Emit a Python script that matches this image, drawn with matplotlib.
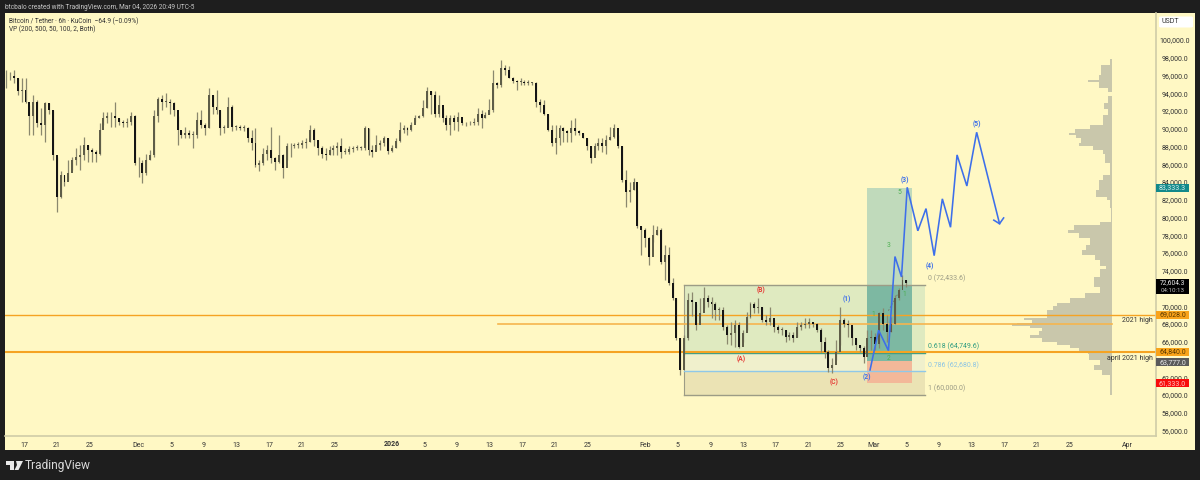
import numpy as np
import matplotlib
matplotlib.use("Agg")
import matplotlib.pyplot as plt
from matplotlib.patches import Rectangle, Polygon, FancyBboxPatch

plt.rcParams['font.family'] = ['Roboto', 'DejaVu Sans']

# ---- candles (12h sampling), thousands of USDT
highs = [96.6,96.4,96.6,95.7,95.7,95.7,92.7,93.8,93.2,92.3,93.05,92.9,92.1,86.85,85.2,84.8,86.5,86.85,87.8,88.2,89.1,88.2,87.8,87.6,90.6,91.9,91.9,91.9,93.05,91.2,91.0,91.2,91.9,91.55,86.85,86.5,87.2,87.6,92.1,93.6,93.8,94.0,93.4,93.05,91.4,89.7,90.2,89.85,89.7,91.9,92.1,90.6,94.55,93.8,94.4,92.1,90.4,93.6,92.7,90.4,90.4,90.4,90.2,89.85,90.05,86.5,87.8,88.2,90.2,86.85,89.3,87.2,88.35,88.35,88.35,88.55,88.7,88.9,90.4,90.05,88.7,88.0,87.8,88.0,88.2,88.55,
 89.0,87.8,88.0,88.0,88.15,88.05,90.3,90.05,88.15,89.3,88.7,89.2,89.0,88.15,88.9,90.8,90.4,90.15,90.8,91.55,91.55,93.25,94.7,94.2,94.2,93.8,92.3,91.55,91.55,91.55,91.9,90.8,90.8,90.9,91.2,92.3,92.1,91.9,93.4,96.6,95.3,97.8,97.2,97.05,95.85,95.5,95.7,95.5,95.5,95.3,95.3,93.3,93.25,91.7,90.4,90.4,90.4,90.2,89.85,91.0,91.2,89.85,89.5,89.0,88.0,88.35,88.9,88.9,89.3,90.2,90.5,89.3,88.0,85.35,84.05,84.4,
 83.1,79.0,78.8,77.85,79.15,79.0,78.8,76.9,76.7,73.15,70.9,66.4,66.75,71.45,71.65,70.3,70.9,72.2,71.25,71.05,70.5,69.95,69.95,67.9,68.25,68.45,68.25,
 67.3,69.4,70.5,70.5,70.9,69.95,69.0,69.95,68.45,67.9,67.7,67.3,67.15,67.15,68.25,68.25,68.65,68.65,68.25,68.15,67.5,66.55,65.05,64.15,66.25,69.95,68.65,68.45,67.7,66.4,65.6,65.5,67.3,67.3,66.95,69.4,69.75,69.0,68.8,71.25,72.0,73.5,72.95]
lows = [94.6,95.5,95.1,93.8,93.05,92.9,89.3,89.3,90.2,89.3,88.55,91.7,86.5,80.65,82.2,83.5,84.2,85.35,85.9,85.35,86.5,86.3,86.3,86.3,87.05,90.4,90.6,90.2,90.2,90.4,90.2,90.2,90.4,85.9,84.6,83.85,84.8,86.5,86.85,90.8,92.1,92.5,91.7,91.4,88.2,88.9,88.9,88.9,87.8,88.9,90.05,89.3,90.05,91.7,91.7,89.3,89.5,90.2,89.7,89.85,89.85,89.7,88.55,87.6,85.7,85.2,85.9,86.5,86.1,85.35,86.1,84.4,86.5,86.85,87.8,87.8,87.8,87.8,88.55,88.0,87.05,86.7,86.5,87.05,87.05,87.05,
 86.65,87.15,87.2,87.4,87.55,87.6,87.6,87.05,86.85,87.6,87.6,88.0,87.2,87.4,87.8,88.55,89.5,89.3,89.7,90.8,91.2,91.35,92.3,91.7,91.35,91.35,90.8,89.85,89.3,89.85,89.7,90.4,90.3,90.4,90.4,90.4,90.05,91.2,91.7,91.9,94.55,94.7,96.05,95.7,95.1,94.4,94.9,94.9,94.9,94.9,92.5,91.9,91.55,89.7,88.0,87.2,88.15,88.55,88.55,88.55,89.3,89.3,88.9,87.6,86.1,87.2,87.6,87.4,87.2,88.7,88.9,87.8,84.05,81.2,81.8,83.1,
 78.8,75.8,76.7,74.65,77.25,78.0,74.8,72.95,72.4,70.7,66.2,62.25,64.5,66.2,68.85,67.3,68.85,69.75,69.95,68.65,68.45,68.45,67.3,65.8,65.6,65.45,65.25,
 66.0,67.3,68.65,69.2,69.2,68.25,67.9,67.9,67.15,66.95,66.75,66.0,66.2,66.0,66.55,67.3,67.5,67.5,67.7,67.15,64.9,64.15,62.6,62.5,63.95,65.6,67.7,66.55,65.6,65.05,64.9,63.65,65.25,65.05,65.05,65.25,67.3,66.0,67.15,68.05,70.7,72.4,72.2]
closes = [95.9,95.9,95.7,94.2,94.4,93.05,91.4,93.05,90.6,90.4,92.9,92.1,87.05,82.35,84.8,84.05,85.0,86.5,86.85,87.05,88.2,87.6,87.4,87.2,89.85,91.2,91.4,91.4,91.2,90.8,90.6,90.8,91.4,86.1,86.1,85.0,86.5,87.05,91.4,93.4,93.05,93.05,92.9,92.1,89.85,89.3,89.5,89.3,89.3,91.0,90.4,90.05,93.8,92.5,92.1,90.05,90.05,92.5,90.2,90.2,90.05,90.05,88.9,88.35,85.9,86.1,87.2,87.6,86.7,86.3,87.05,85.55,88.0,88.05,88.2,88.2,88.35,88.55,89.85,88.7,87.8,87.2,87.05,87.6,87.8,88.0,
 87.4,87.4,87.7,87.8,87.85,87.85,90.05,87.6,87.4,88.15,88.35,88.9,87.5,87.8,88.65,89.85,90.05,89.85,90.4,91.2,91.4,92.3,94.2,93.8,91.7,92.7,91.2,90.4,91.2,90.8,91.35,90.6,90.6,90.7,90.8,91.7,91.2,91.55,92.1,95.1,94.9,96.8,96.6,95.7,95.4,95.3,95.3,95.2,95.2,95.2,93.05,92.7,91.7,89.85,88.35,88.9,90.05,89.7,89.5,90.05,89.7,89.5,89.0,88.0,86.65,88.0,88.35,88.0,88.7,89.1,90.05,88.0,84.2,82.9,83.1,84.05,
 79.0,78.6,77.65,75.5,78.0,78.6,75.0,75.75,72.6,70.9,66.4,62.8,66.4,70.7,70.5,67.9,69.2,70.9,70.5,70.3,69.6,69.6,67.7,66.75,66.95,67.9,65.45,
 66.95,68.8,70.3,69.75,69.95,68.45,68.25,68.65,67.7,67.3,67.3,66.55,66.75,66.4,67.7,67.9,68.05,68.25,68.05,67.3,66.0,64.9,63.0,63.4,64.9,68.5,68.05,67.9,66.4,65.6,65.25,64.3,66.4,66.55,65.8,69.2,68.05,67.15,68.05,70.9,71.85,72.95,72.6]

# ---- forecast wave (days after Nov 17, thousands of USDT)
wave_days = [103.55,104.6,105.8,106.6,107.4,108.1,109.4,110.4,111.4,112.4,113.4,114.2,115.4,116.6,119.4]
wave_vals = [62.82,67.3,65.0,75.6,73.3,83.4,78.5,81.0,75.7,82.1,78.9,87.05,83.55,89.6,79.3]

# ---- fib / position levels
fib_levels = [72.4336, 64.7496, 62.6808, 60.0]
fib_labels = ['0 (72,433.6)', '0.618 (64,749.6)', '0.786 (62,680.8)', '1 (60,000.0)']
target, entry, stop = 83.3333, 63.777, 61.333
level_2021, level_apr = 69.028, 64.84
level_mid = 68.0

# ---- volume profile
vp_edges = [97.9,97.2,96.05,95.5,95.25,94.55,94.1,93.7,92.9,92.2,91.6,90.4,90.0,89.55,89.35,88.95,88.4,88.05,87.6,87.2,86.1,84.8,84.2,83.1,82.3,82.0,81.1,79.5,79.1,78.55,78.3,77.7,76.9,76.3,75.8,75.2,74.5,74.25,73.3,72.2,71.5,70.9,70.4,70.0,69.6,68.7,68.45,68.15,67.95,67.8,67.5,67.2,66.8,66.4,66.0,65.6,65.25,64.9,64.6,63.95,63.35,62.85,62.3,60.0]
vp_vol = [2.3,11,13,24,13,4,0,4,8,4,9,22,37,43,36,31,33,19,9,7,2.3,9,13,16,5,2.3,1,12,38,44,33,22,26,30,17,12,6,12,18,12,27,42,55,59,65,88,80,95,100,82,70,73,82,70,55,42,33,24,23,12,18,10,2]

# ---- axis ticks (72,000 and 64,000 sit behind price tags in the reference)
price_ticks = [p for p in range(56, 102, 2) if p not in (72, 64)]
date_days = [0,4,8,14,18,22,26,30,34,38,49,53,57,61,65,69,76,80,84,88,92,96,100,104,108,112,116,120,124,128,135]
date_labels = ['17','21','25','Dec','5','9','13','17','21','25','5','9','13','17','21','25','Feb','5','9','13','17','21','25','Mar','5','9','13','17','21','25','Apr']

BG = '#FFF8C4'
DARK = '#1E1E1E'
GRID = '#CFCCA8'
W, H = 1200, 480

fig = plt.figure(figsize=(12, 4.8), dpi=100, facecolor=DARK)
def T(x, y, s, **kw):
    kw.setdefault('ha', 'left'); kw.setdefault('va', 'center')
    return fig.text(x / W, 1 - y / H, s, **kw)

# full panel
fig.add_artist(Rectangle((5 / W, 1 - 450 / H), 1190 / W, 437 / H, transform=fig.transFigure, fc=BG, ec='none', zorder=-5))
ax = fig.add_axes([5 / W, 1 - 436 / H, 1151 / W, 423 / H])
ax.set_facecolor(BG)
ax.set_xlim(-2.326, 138.55)
ax.set_ylim(55380, 103040)
for s in ['top', 'left']:
    ax.spines[s].set_visible(False)
for s in ['bottom', 'right']:
    ax.spines[s].set_color(GRID); ax.spines[s].set_linewidth(1.2)

k = 1000.0
hi, lo, cl = np.array(highs) * k, np.array(lows) * k, np.array(closes) * k
op = np.r_[cl[0], cl[:-1]]
days = np.linspace(-2.2, 108, len(cl))

# fib zones
fl, fr = 80.8, 110.3
fib_cols = ['#DFEAC0', '#F0F0CC', '#EBE3B4']
for (a, b, c) in zip(fib_levels[:-1], fib_levels[1:], fib_cols):
    ax.add_patch(Rectangle((fl, b * k), fr - fl, (a - b) * k, fc=c, ec='none', zorder=1))
ax.plot([fl, fl], [fib_levels[0] * k, fib_levels[-1] * k], color='#9C9C86', lw=0.8, zorder=2.2)
for lv, c in zip(fib_levels, ['#9C9C86', '#3E9E88', '#8FC8E8', '#9C9C86']):
    ax.plot([fl, fr], [lv * k, lv * k], color=c, lw=1, zorder=2.2)
for lv, t, c in zip(fib_levels, fib_labels, ['#9C9C86', '#2F9C80', '#8CC4E4', '#9C9C86']):
    ax.text(fr + 0.35, lv * k + 680, t, color=c, fontsize=5.0, va='center', zorder=5)

# position tool
pl, pr = 103.15, 108.72
ax.add_patch(Rectangle((pl, entry * k), pr - pl, (target - entry) * k, fc='#C0DABB', ec='none', zorder=1.4))
ax.add_patch(Rectangle((pl, entry * k), pr - pl, (fib_levels[0] - entry) * k, fc='#7DB8A2', ec='none', zorder=1.5))
ax.add_patch(Rectangle((pl, stop * k), pr - pl, (entry - stop) * k, fc='#F3B899', ec='none', zorder=1.5))
ax.plot([105.8, 107.2], [69500, 71800], color='#777766', lw=0.6, ls=(0, (2, 2)), zorder=2.3)

# volume profile
vp_edges_a = np.array(vp_edges) * k
vp_right = (1112.3 - 24) / 8.17
vp_w = np.array(vp_vol) / 8.17
ax.barh(vp_edges_a[1:], vp_w, height=vp_edges_a[:-1] - vp_edges_a[1:], left=vp_right - vp_w, align='edge', color='#C9C7AB', lw=0, zorder=1.6)

# horizontal levels
ax.axhline(level_2021 * k, color='#F5A323', lw=1.0, zorder=2.5)
ax.axhline(level_apr * k, color='#F5A323', lw=1.5, zorder=2.5)
ax.plot([58, vp_right], [level_mid * k] * 2, color='#F6B54E', lw=1.2, zorder=2.5)

# candles
ax.vlines(days, lo, hi, color='#8A886E', lw=0.9, zorder=3)
up = cl >= op
body_lo = np.minimum(op, cl); body_h = np.maximum(np.abs(cl - op), 90)
ax.bar(days[up], body_h[up], bottom=body_lo[up], width=0.24, color='#5E5D48', lw=0, zorder=3.2)
ax.bar(days[~up], body_h[~up], bottom=body_lo[~up], width=0.24, color='#151515', lw=0, zorder=3.2)

# wave
wv = np.array(wave_vals) * k
ax.plot(wave_days, wv, color='#3D6FEA', lw=1.15, zorder=4, solid_joinstyle='miter')
ax.plot([118.7, 119.4, 119.9], [79700, 79300, 79950], color='#3D6FEA', lw=1.15, zorder=4)

# ticks
ax.yaxis.tick_right()
ax.set_yticks([p * 1000 for p in price_ticks])
ax.set_yticklabels([f'{p * 1000:,.1f}' for p in price_ticks], fontsize=5.0, color='#333333')
ax.set_xticks(date_days)
ax.set_xticklabels(date_labels, fontsize=5.0, color='#333333')
for lab in ax.get_yticklabels():
    lab.set_ha('center')
ax.tick_params(axis='x', length=0, pad=4.2)
ax.tick_params(axis='y', length=0, pad=13.5)
ax.grid(False)
T(392, 443.8, '2026', fontsize=5.0, color='#333333', ha='center', fontweight='bold', zorder=7)

# right-axis price tags
trans = ax.get_yaxis_transform()
tags = [(83333.3, '83,333.3', '#12898B', '#D8F0EE'), (69028, '69,028.0', '#F9A31A', '#5A3A00'),
        (64840, '64,840.0', '#F9A31A', '#5A3A00'), (63700, '63,777.0', '#5A5A5A', '#E8E8E8'),
        (61333, '61,333.0', '#F80B0B', '#FFC8C8')]
dx = 33 / 1151
th = 960
for p, s, bg, fg in tags:
    ax.add_patch(Rectangle((1.0, p - th / 2), dx, th, transform=trans, fc=bg, ec='none', clip_on=False, zorder=8))
    ax.text(1.0 + dx / 2, p, s, transform=trans, color=fg, fontsize=5.0, ha='center', va='center', clip_on=False, zorder=9)
ax.add_patch(Rectangle((1.0, 71400), dx, 1690, transform=trans, fc='#000000', ec='none', clip_on=False, zorder=8))
ax.text(1.0 + dx / 2, 72650, '72,604.3', transform=trans, color='#EEEEEE', fontsize=4.8, ha='center', va='center', clip_on=False, zorder=9)
ax.text(1.0 + dx / 2, 71830, '04:10:13', transform=trans, color='#BBBBBB', fontsize=4.5, ha='center', va='center', clip_on=False, zorder=9)

# USDT box
fig.add_artist(FancyBboxPatch((1159 / W, 1 - 27.5 / H), 34 / W, 11 / H, boxstyle='round,pad=0,rounding_size=0.002', transform=fig.transFigure, fc='#FFFFFF', ec='none', zorder=6))
T(1162, 21.8, 'USDT', fontsize=5.0, color='#333333', zorder=7)

# header texts
T(5, 7.5, 'btcbalo created with TradingView.com, Mar 04, 2026 20:49 UTC-5', fontsize=4.7, color='#C8C8C8')
T(9, 21, 'Bitcoin / Tether · 6h · KuCoin  \u221264.9 (\u22120.09%)', fontsize=4.7, color='#333333')
T(9, 29.5, 'VP (200, 500, 50, 100, 2, Both)', fontsize=4.7, color='#333333')

# annotations
for x, y, s, c in [(847, 299, '(1)', '#3D6FEA'), (867, 377, '(2)', '#3D6FEA'), (905, 180, '(3)', '#3D6FEA'),
                   (930, 266, '(4)', '#3D6FEA'), (977, 124, '(5)', '#3D6FEA'),
                   (741, 359, '(A)', '#E53935'), (761, 290, '(B)', '#E53935'), (834, 382, '(C)', '#E53935'),
                   (899, 193, '5', '#4CAF50'), (889, 246, '3', '#4CAF50'), (904, 294, '1', '#4CAF50'),
                   (873, 314, '1', '#4CAF50'), (889, 359, '2', '#4CAF50')]:
    T(x, y, s, fontsize=4.8, color=c, ha='center', zorder=10, fontweight='bold' if s.startswith('(') else 'normal')
T(1153, 320, '2021 high', fontsize=5.0, color='#333333', ha='right', zorder=10)
T(1153, 358, 'april 2021 high', fontsize=5.0, color='#333333', ha='right', zorder=10)

# TradingView logo
logo = [[(6, 461), (14, 461), (14, 470), (10, 470), (10, 465), (6, 465)],
        [(16, 461), (23, 461), (18.5, 470), (14.5, 470), (17, 465)]]
for pts in logo:
    fig.add_artist(Polygon([(x / W, 1 - y / H) for x, y in pts], closed=True, transform=fig.transFigure, fc='#E8E8E8', ec='none', zorder=6))
T(24.5, 465.5, 'TradingView', fontsize=8.6, color='#D8D8D8')

fig.savefig('out.png', dpi=100, facecolor=DARK)
